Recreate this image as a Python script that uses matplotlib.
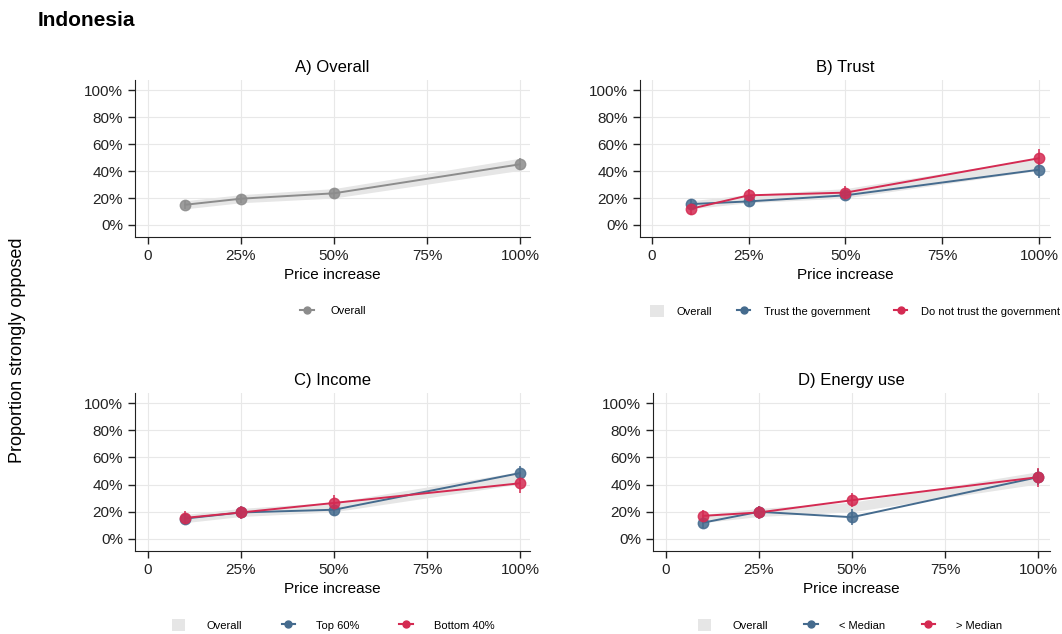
import matplotlib.pyplot as plt
from matplotlib.lines import Line2D
from matplotlib.patches import Patch

plt.rcParams["font.family"] = ["Liberation Sans", "DejaVu Sans"]

# price increase levels (%)
price = [10, 25, 50, 100]
xticks = [0, 25, 50, 75, 100]
xticklabels = ["0", "25%", "50%", "75%", "100%"]
yticks = [0, 20, 40, 60, 80, 100]

# overall share strongly opposed, with confidence band
overall = [15, 19.5, 23.5, 45]
overall_lo = [12, 16.5, 20, 40.5]
overall_hi = [18, 22.5, 27, 49.5]
overall_err = [3, 3, 3.5, 4.5]

# trust in government
trust_yes = [15.5, 17.5, 22, 41]
trust_yes_err = [4, 3.5, 3.5, 6]
trust_no = [12, 22, 24, 49.5]
trust_no_err = [4.5, 5, 5, 7]

# income groups
top60 = [15, 19.5, 21.5, 48.5]
top60_err = [3.5, 3.5, 4, 5.5]
bottom40 = [15.5, 19.5, 26.5, 41]
bottom40_err = [5, 5, 6, 7]

# energy use
below_med = [12, 20, 16, 45.5]
below_med_err = [4, 4.5, 6, 6]
above_med = [17, 19.5, 28.5, 45.5]
above_med_err = [4.5, 4.5, 5, 7]

GREY = "#8c8c8c"
BAND = "#e6e6e6"
BLUE = "#456b8e"
RED = "#d42a52"

W, H = 1062, 634
fig = plt.figure(figsize=(W / 100, H / 100), dpi=100)


def add_panel(left, right, top, bottom, zero_px, hundred_px, title):
    ax = fig.add_axes([left / W, 1 - bottom / H, (right - left) / W, (bottom - top) / H])
    ppu = (hundred_px - zero_px) / 100
    ax.set_xlim((left - zero_px) / ppu, (right - zero_px) / ppu)
    ax.set_ylim(-8.9, 107.5)
    ax.set_xticks(xticks)
    ax.set_xticklabels(xticklabels)
    ax.set_yticks(yticks)
    ax.set_yticklabels([f"{v}%" for v in yticks])
    ax.tick_params(labelsize=11, length=5, width=1, colors="#222222")
    ax.grid(True, color="#e8e8e8", linewidth=0.8)
    ax.set_axisbelow(True)
    for s in ["top", "right"]:
        ax.spines[s].set_visible(False)
    for s in ["left", "bottom"]:
        ax.spines[s].set_color("#222222")
    ax.set_title(title, fontsize=12, pad=6)
    ax.set_xlabel("Price increase", fontsize=11, labelpad=4)
    return ax


def draw_series(ax, y, err, color):
    ax.plot(price, y, color=color, lw=1.4, zorder=3)
    ax.errorbar(price, y, yerr=err, fmt="o", color=color, ms=7.5, elinewidth=1.3,
                capsize=0, alpha=0.85, zorder=4)


def group_legend(lab1, lab2, x_center, y_px, textpad, colspace):
    handles = [
        Patch(facecolor=BAND, edgecolor="none"),
        Line2D([], [], color=BLUE, marker="o", ms=5, lw=1.5),
        Line2D([], [], color=RED, marker="o", ms=5, lw=1.5),
    ]
    fig.legend(handles, ["Overall", lab1, lab2], loc="center",
               bbox_to_anchor=(x_center / W, 1 - y_px / H), ncol=3, frameon=False,
               fontsize=8, handlelength=1.2, handleheight=1.2, columnspacing=colspace,
               handletextpad=textpad)


# A) Overall
axA = add_panel(135, 530, 80, 237, 148, 520, "A) Overall")
axA.fill_between(price, overall_lo, overall_hi, color=BAND, lw=0, zorder=2)
draw_series(axA, overall, overall_err, GREY)
fig.legend([Line2D([], [], color=GREY, marker="o", ms=5, lw=1.5)], ["Overall"],
           loc="center", bbox_to_anchor=(333 / W, 1 - 311 / H), frameon=False,
           fontsize=8, handlelength=1.2, handletextpad=1.5)

# B) Trust
axB = add_panel(640, 1050, 80, 237, 652, 1039, "B) Trust")
axB.fill_between(price, overall_lo, overall_hi, color=BAND, lw=0, zorder=2)
draw_series(axB, trust_yes, trust_yes_err, BLUE)
draw_series(axB, trust_no, trust_no_err, RED)
group_legend("Trust the government", "Do not trust the government", 855, 311, 1.2, 2.2)

# C) Income
axC = add_panel(135, 530, 393, 551, 148, 520, "C) Income")
axC.fill_between(price, overall_lo, overall_hi, color=BAND, lw=0, zorder=2)
draw_series(axC, top60, top60_err, BLUE)
draw_series(axC, bottom40, bottom40_err, RED)
group_legend("Top 60%", "Bottom 40%", 333, 625, 1.9, 3.6)

# D) Energy use
axD = add_panel(653, 1050, 393, 551, 666, 1038, "D) Energy use")
axD.fill_between(price, overall_lo, overall_hi, color=BAND, lw=0, zorder=2)
draw_series(axD, below_med, below_med_err, BLUE)
draw_series(axD, above_med, above_med_err, RED)
group_legend("< Median", "> Median", 850, 625, 1.9, 3.3)

fig.text(38 / W, 1 - 20 / H, "Indonesia", fontsize=15, fontweight="bold", va="center")
fig.text(18 / W, 1 - 350 / H, "Proportion strongly opposed", fontsize=13,
         rotation=90, va="center", ha="center")

fig.savefig("out.png", dpi=100)
